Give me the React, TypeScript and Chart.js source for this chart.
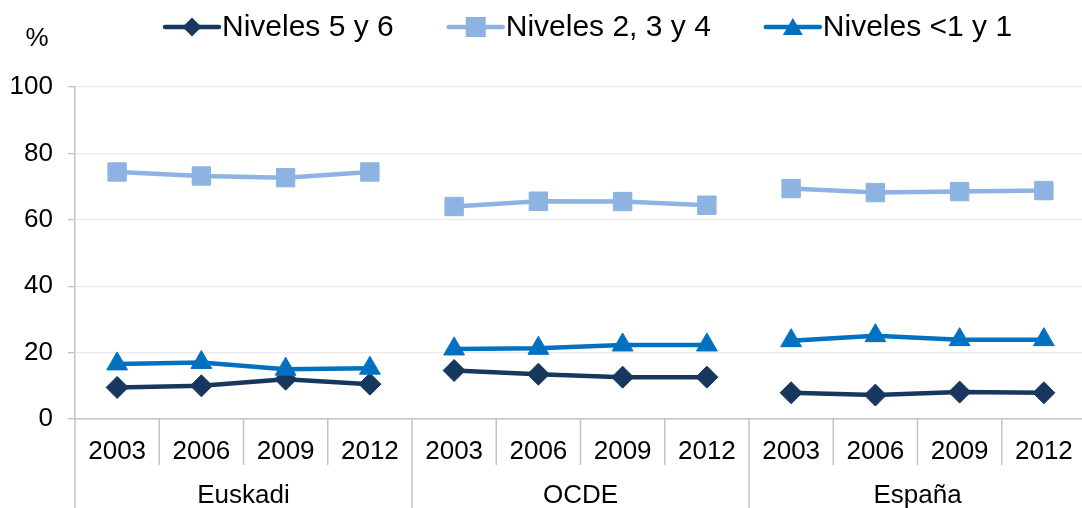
import React, { useEffect, useRef } from "react";
import { Chart, registerables } from "chart.js";

Chart.register(...registerables);

const years = ["2003", "2006", "2009", "2012", "2003", "2006", "2009", "2012", "2003", "2006", "2009", "2012"];
const groups = ["Euskadi", "OCDE", "España"];
const nivel56 = [9.5, 10.0, 12.0, 10.5, 14.6, 13.5, 12.6, 12.6, 7.9, 7.2, 8.1, 7.9];
const nivel234 = [74.4, 73.2, 72.7, 74.4, 64.0, 65.6, 65.5, 64.4, 69.4, 68.2, 68.5, 68.8];
const nivel1 = [16.6, 17.0, 15.0, 15.3, 21.1, 21.3, 22.3, 22.3, 23.6, 25.1, 23.9, 23.9];
const yTicks = [0, 20, 40, 60, 80, 100];

const FONT = "'Liberation Sans', Arial, sans-serif";
const C56 = "#17375E";
const C234 = "#8DB3E2";
const C1 = "#0070C0";
const SEP = "#C3C3C3";

function drawMarker(ctx: CanvasRenderingContext2D, style: string, x: number, y: number, color: string) {
  ctx.save();
  ctx.fillStyle = color;
  ctx.beginPath();
  if (style === "rectRot") {
    const r = 9.5;
    ctx.moveTo(x - r, y);
    ctx.lineTo(x, y - r);
    ctx.lineTo(x + r, y);
    ctx.lineTo(x, y + r);
  } else if (style === "rect") {
    const h = 10;
    ctx.rect(x - h, y - h, 2 * h, 2 * h);
  } else {
    ctx.moveTo(x, y - 9);
    ctx.lineTo(x + 10, y + 8);
    ctx.lineTo(x - 10, y + 8);
  }
  ctx.closePath();
  ctx.fill();
  ctx.restore();
}

const decorPlugin = {
  id: "decor",
  afterDraw(chart: any) {
    const ctx: CanvasRenderingContext2D = chart.ctx;
    const xs = chart.scales.x;
    const area = chart.chartArea;
    ctx.save();
    // "%" label
    ctx.fillStyle = "#000";
    ctx.font = `26px ${FONT}`;
    ctx.textAlign = "center";
    ctx.textBaseline = "middle";
    ctx.fillText("%", 37, 39);

    // legend
    let lx = 165;
    const ly = 27;
    ctx.font = `30px ${FONT}`;
    chart.data.datasets.forEach((ds: any) => {
      ctx.strokeStyle = ds.borderColor;
      ctx.lineWidth = 4.5;
      ctx.lineCap = "round";
      ctx.beginPath();
      ctx.moveTo(lx, ly);
      ctx.lineTo(lx + 54, ly);
      ctx.stroke();
      drawMarker(ctx, ds.pointStyle, lx + 27, ly, ds.borderColor);
      ctx.fillStyle = "#000";
      ctx.textAlign = "left";
      ctx.textBaseline = "middle";
      ctx.fillText(ds.label, lx + 57, ly + 1);
      lx += 57 + ctx.measureText(ds.label).width + 55;
    });

    // x separators
    const n = years.length;
    const bounds: number[] = [];
    for (let i = 0; i <= n; i++) {
      if (i === 0) bounds.push(area.left);
      else if (i === n) bounds.push(area.right);
      else bounds.push((xs.getPixelForValue(i - 1) + xs.getPixelForValue(i)) / 2);
    }
    ctx.strokeStyle = SEP;
    ctx.lineWidth = 1.5;
    ctx.lineCap = "butt";
    bounds.forEach((b, i) => {
      ctx.beginPath();
      ctx.moveTo(b, area.bottom);
      ctx.lineTo(b, i % 4 === 0 ? 508 : 465);
      ctx.stroke();
    });

    // group labels
    ctx.fillStyle = "#000";
    ctx.font = `26px ${FONT}`;
    ctx.textAlign = "center";
    ctx.textBaseline = "middle";
    groups.forEach((g, gi) => {
      const cx = (bounds[gi * 4] + bounds[gi * 4 + 4]) / 2;
      ctx.fillText(g, cx, 496);
    });
    ctx.restore();
  },
};

function seg(color: string) {
  return {
    borderColor: (c: any) => (c.p0DataIndex % 4 === 3 ? "rgba(0,0,0,0)" : color),
  };
}

export default function App() {
  const ref = useRef<HTMLCanvasElement>(null);
  useEffect(() => {
    if (!ref.current) return;
    const chart = new Chart(ref.current, {
      type: "line",
      data: {
        labels: years,
        datasets: [
          {
            label: "Niveles 5 y 6",
            data: nivel56,
            borderColor: C56,
            backgroundColor: C56,
            borderWidth: 4.5,
            pointStyle: "rectRot",
            pointRadius: 11,
            pointBorderWidth: 1,
            segment: seg(C56),
            order: 3,
          },
          {
            label: "Niveles 2, 3 y 4",
            data: nivel234,
            borderColor: C234,
            backgroundColor: C234,
            borderWidth: 4.5,
            pointStyle: "rect",
            pointRadius: 13,
            pointBorderWidth: 1,
            segment: seg(C234),
            order: 2,
          },
          {
            label: "Niveles <1 y 1",
            data: nivel1,
            borderColor: C1,
            backgroundColor: C1,
            borderWidth: 4.5,
            pointStyle: "triangle",
            pointRadius: 12,
            pointBorderWidth: 1,
            segment: seg(C1),
            order: 1,
          },
        ] as any,
      },
      options: {
        responsive: false,
        animation: false,
        layout: { padding: { top: 87, right: 7, left: 0, bottom: 0 } },
        plugins: { legend: { display: false }, tooltip: { enabled: false } },
        scales: {
          x: {
            type: "category",
            offset: true,
            grid: { display: false },
            border: { display: true, color: SEP, width: 1.5 },
            ticks: {
              color: "#000",
              font: { family: FONT, size: 26 },
              padding: 9,
              maxRotation: 0,
              autoSkip: false,
            },
            afterFit: (s: any) => {
              s.height = 89;
            },
          },
          y: {
            min: 0,
            max: 100,
            afterBuildTicks: (s: any) => {
              s.ticks = yTicks.map((v) => ({ value: v }));
            },
            grid: {
              color: "#EAEAEA",
              lineWidth: 1.3,
              tickColor: SEP,
              tickLength: 7,
              drawTicks: true,
            },
            border: { display: true, color: SEP, width: 1.5 },
            ticks: {
              color: "#000",
              font: { family: FONT, size: 26 },
              padding: 15,
            },
            afterFit: (s: any) => {
              s.width = 75;
            },
          },
        },
      },
      plugins: [decorPlugin],
    });
    return () => chart.destroy();
  }, []);
  return (
    <div
      style={{
        position: "fixed",
        left: 0,
        top: 0,
        width: 1082,
        height: 508,
        overflow: "hidden",
        background: "#fff",
      }}
    >
      <canvas ref={ref} width={1100} height={508} style={{ width: 1100, height: 508, display: "block" }} />
    </div>
  );
}
